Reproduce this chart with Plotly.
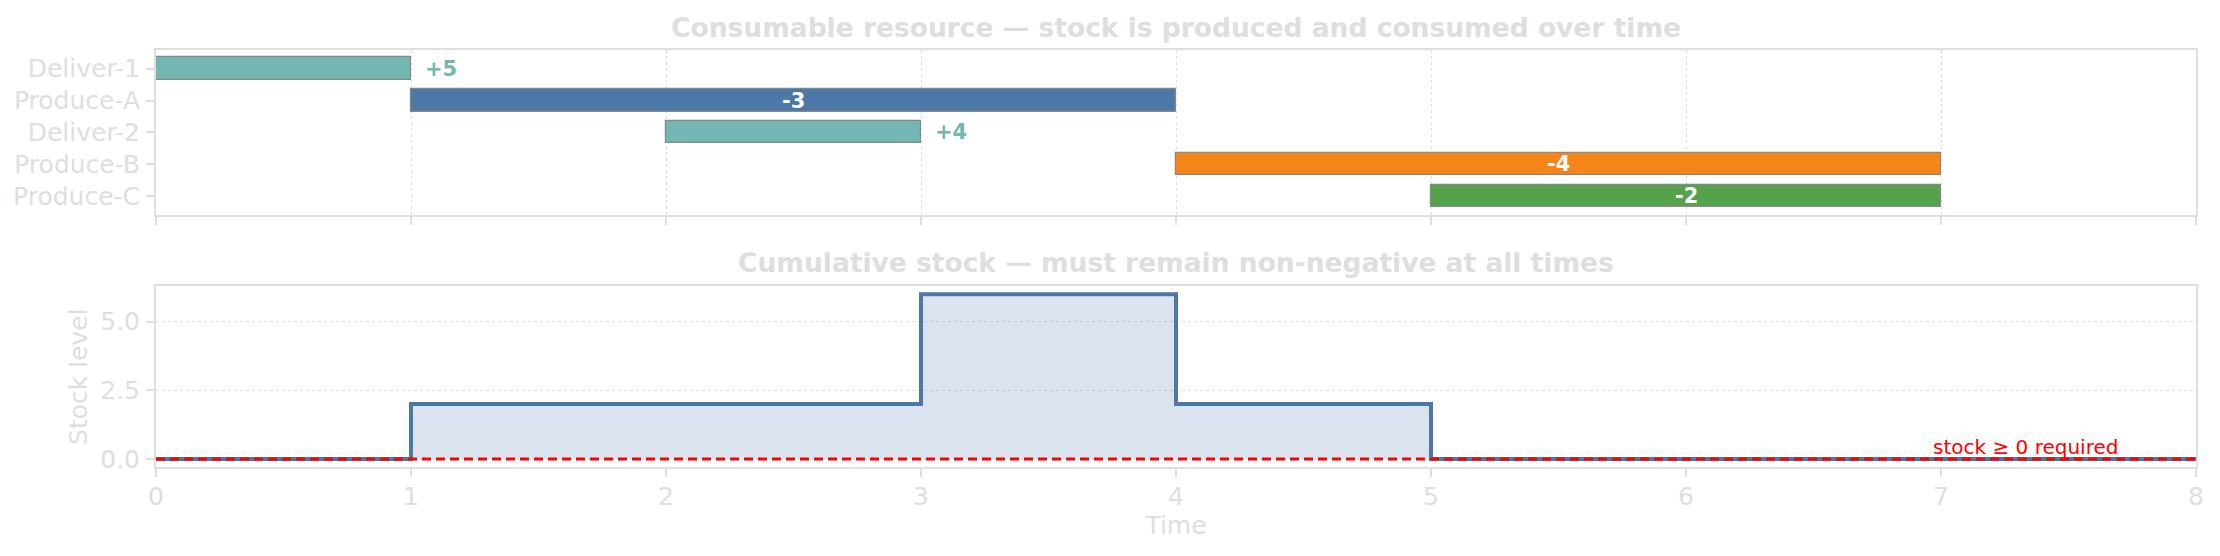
import plotly.graph_objects as go

# task schedule (top panel)
tasks = ["Deliver-1", "Produce-A", "Deliver-2", "Produce-B", "Produce-C"]
starts = [0, 1, 2, 4, 5]
ends = [1, 4, 3, 7, 7]
amounts = ["+5", "-3", "+4", "-4", "-2"]
kinds = ["deliver", "produce", "deliver", "produce", "produce"]
bar_colors = ["#72B7B2", "#4C78A8", "#72B7B2", "#F58518", "#54A24B"]

# cumulative stock (bottom panel), step changes
step_times = [0, 1, 3, 4, 5, 8]
stock_level = [0, 2, 6, 2, 0, 0]

GRAY = "#dedede"
FONT = "DejaVu Sans"
OFF = 8  # page body margin; keep the figure inside the window
W, H = 2220 - 2 * OFF, 556 - 2 * OFF
L, R = 156 - OFF, 2196 - OFF


def py(px):
    # page pixel row -> paper coordinate
    return 1 - (px - OFF) / H


fig = go.Figure()

durations = [e - s for s, e in zip(starts, ends)]
fig.add_trace(go.Bar(
    y=tasks, x=durations, base=starts, orientation="h", width=0.7,
    marker=dict(color=bar_colors, line=dict(color="#888888", width=1.2)),
    xaxis="x", yaxis="y", showlegend=False, hoverinfo="skip",
))

for t, s, e, a, k in zip(tasks, starts, ends, amounts, kinds):
    if k == "deliver":
        fig.add_annotation(x=e, y=t, xref="x", yref="y", text=f"<b>{a}</b>",
                           showarrow=False, xanchor="left", xshift=12,
                           font=dict(family=FONT, size=21, color="#72B7B2"))
    else:
        fig.add_annotation(x=(s + e) / 2, y=t, xref="x", yref="y", text=f"<b>{a}</b>",
                           showarrow=False, xanchor="center",
                           font=dict(family=FONT, size=21, color="white"))

fig.add_trace(go.Scatter(
    x=step_times, y=stock_level, mode="lines", line_shape="hv",
    line=dict(color="#4C78A8", width=4), fill="tozeroy",
    fillcolor="rgba(76,120,168,0.2)", xaxis="x2", yaxis="y2",
    showlegend=False, hoverinfo="skip",
))

fig.add_shape(type="line", xref="x2", yref="y2", x0=0, x1=8, y0=0, y1=0,
              line=dict(color="red", width=3, dash="9px,5px"), layer="above")
fig.add_annotation(x=7, y=0, xref="x2", yref="y2", text="stock ≥ 0 required",
                   showarrow=False, xanchor="left", yanchor="bottom", xshift=-10, yshift=-2,
                   font=dict(family=FONT, size=20, color="red"))

fig.add_annotation(x=0.5, y=py(28), xref="paper", yref="paper", yanchor="middle",
                   text="<b>Consumable resource — stock is produced and consumed over time</b>",
                   showarrow=False, font=dict(family=FONT, size=26.5, color=GRAY))
fig.add_annotation(x=0.5, y=py(265), xref="paper", yref="paper", yanchor="middle",
                   text="<b>Cumulative stock — must remain non-negative at all times</b>",
                   showarrow=False, font=dict(family=FONT, size=26.5, color=GRAY))

axis_common = dict(showline=True, mirror=True, linecolor=GRAY, linewidth=2,
                   ticks="outside", ticklen=8, tickcolor=GRAY, tickwidth=1.5,
                   zeroline=False, tickfont=dict(family=FONT, size=25, color=GRAY))

fig.update_layout(
    width=W, height=H, plot_bgcolor="white", paper_bgcolor="white",
    margin=dict(l=L, r=W - R, t=0, b=0),
    bargap=0,
    xaxis=dict(domain=[0, 1], range=[0, 8], dtick=1, showticklabels=False,
               showgrid=True, gridcolor=GRAY, griddash="dot", gridwidth=1.2,
               anchor="y", **axis_common),
    yaxis=dict(domain=[py(217), py(50.5)], type="category", categoryarray=tasks,
               range=[4.585, -0.585], showgrid=False, anchor="x",
               ticklabelstandoff=1, **axis_common),
    xaxis2=dict(domain=[0, 1], range=[0, 8], dtick=1, showgrid=False, anchor="y2",
                ticklabelstandoff=-2,
                title=dict(text="Time", font=dict(family=FONT, size=25, color=GRAY), standoff=6),
                **axis_common),
    yaxis2=dict(domain=[py(472.5), py(289)], range=[-0.3, 6.3], dtick=2.5, tickformat=".1f",
                showgrid=True, gridcolor=GRAY, griddash="dot", gridwidth=1.2, anchor="x2",
                ticklabelstandoff=1,
                title=dict(text="Stock level", font=dict(family=FONT, size=25, color=GRAY), standoff=5),
                **axis_common),
)

fig.write_html("out.html")
